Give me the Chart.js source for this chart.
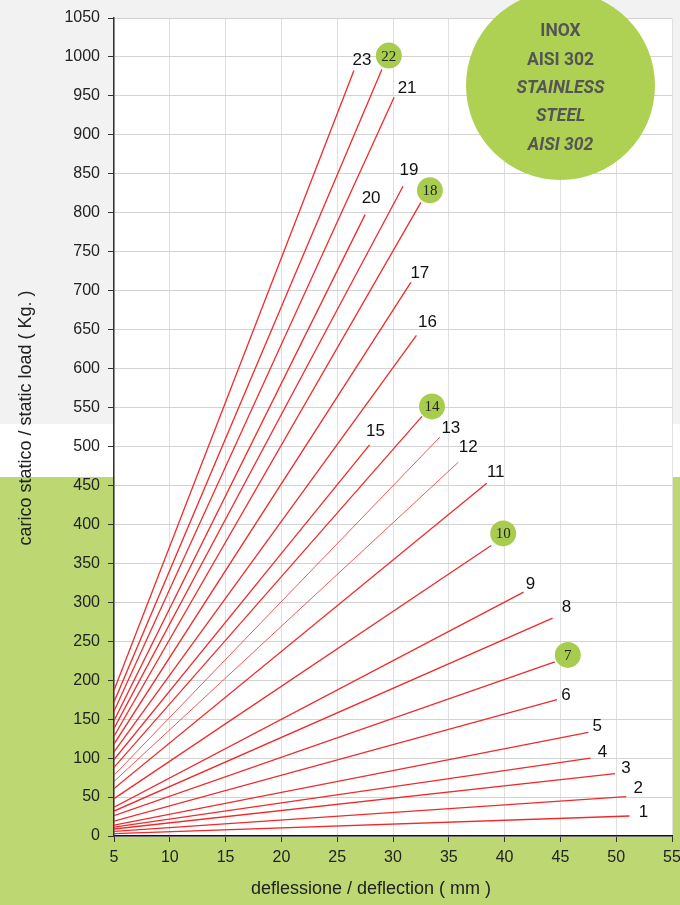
<!DOCTYPE html>
<html>
<head>
<meta charset="utf-8">
<script src="https://cdn.jsdelivr.net/npm/chart.js@4.4.1/dist/chart.umd.min.js"></script>
<style>
  html, body { margin:0; padding:0; }
  body {
    width:680px; height:905px; overflow:hidden; position:relative;
    background: linear-gradient(to bottom, #f2f2f2 0, #f2f2f2 424px, #ffffff 424px, #ffffff 477px, #bdd872 477px, #bdd872 905px);
    font-family: "Liberation Sans", Arial, sans-serif;
  }
  #wrap { position:absolute; left:0; top:0; width:680px; height:905px; }
  .badge-big {
    position:absolute; left:466px; top:-9px; width:189px; height:189px; border-radius:50%;
    background:#aed153; color:#555; font-family: Roboto, "Liberation Sans", sans-serif;
    font-weight:700; font-size:17.5px; text-align:center;
  }
  .badge-big div { position:absolute; left:0; right:0; line-height:20px; }
  .badge-big .it { font-style:italic; }
</style>
</head>
<body>
<div id="wrap"><canvas id="chart" width="680" height="905"></canvas></div>
<div class="badge-big">
  <div style="top:29px">INOX</div>
  <div style="top:58px">AISI 302</div>
  <div class="it" style="top:86px">STAINLESS</div>
  <div class="it" style="top:114px">STEEL</div>
  <div class="it" style="top:143px">AISI 302</div>
</div>
<script>
// spring number, load at 5 mm, end deflection, end load
const SPRINGS    = ['1','2','3','4','5','6','7','8','9','10','11','12','13','14','15','16','17','18','19','20','21','22','23'];
const X_START    = 5;
const START_LOAD = [3, 6, 9, 11.5, 14, 19, 26, 32, 37, 48, 61, 70, 78, 88, 98, 108, 118, 128, 138, 148, 160, 172, 187];
const END_DEFL   = [51.2, 50.9, 49.9, 47.7, 47.5, 44.7, 44.5, 44.3, 41.7, 38.8, 38.4, 35.85, 34.2, 32.6, 27.9, 32.1, 31.6, 32.5, 30.9, 27.5, 30.1, 29.0, 26.5];
const END_LOAD   = [25.7, 50.5, 80, 100, 133, 175, 223.5, 279.6, 313, 373, 452.7, 479.8, 512, 538.6, 502, 642.6, 710.7, 813.4, 834, 797.6, 948.3, 983.8, 982.5];
const BADGED     = ['7','10','14','18','22'];
const THIN       = ['12','13'];

// label offsets from line end (px)
const LABEL_DX = [14,12,11,12,9,9,13,14,7,12,9,10,11,10,6,11,9,9,6,6,13,7,8];
const LABEL_DY = [-4,-8,-5,-6,-6,-4,-7,-11,-8,-12,-11,-15,-9,-10,-14,-13,-9,-12,-16,-16,-9,-14,-10];

const datasets = SPRINGS.map((s, i) => ({
  label: s,
  data: [{x: X_START, y: START_LOAD[i]}, {x: END_DEFL[i], y: END_LOAD[i]}],
  borderColor: THIN.includes(s) ? 'rgba(240,60,60,0.85)' : '#f02a2a',
  borderWidth: THIN.includes(s) ? 1 : 1.3,
  pointRadius: 0,
  fill: false,
  tension: 0,
}));

const plotBg = {
  id:'plotBg',
  beforeDraw(chart){
    const {ctx, chartArea:a} = chart;
    ctx.save();
    ctx.fillStyle = '#fff';
    ctx.fillRect(a.left, a.top, a.right - a.left, a.bottom - a.top);
    ctx.restore();
  }
};

const lineLabels = {
  id:'lineLabels',
  afterDatasetsDraw(chart){
    const ctx = chart.ctx;
    ctx.save();
    chart.data.datasets.forEach((ds, i) => {
      const pt = chart.getDatasetMeta(i).data[1];
      const x = pt.x + LABEL_DX[i], y = pt.y + LABEL_DY[i];
      ctx.textAlign = 'center';
      ctx.textBaseline = 'middle';
      if (BADGED.includes(ds.label)) {
        ctx.fillStyle = '#a8cd4e';
        ctx.beginPath(); ctx.arc(x, y, 13, 0, Math.PI*2); ctx.fill();
        ctx.fillStyle = '#222';
        ctx.font = '15px "Liberation Serif", "Times New Roman", serif';
        ctx.fillText(ds.label, x, y + 1);
      } else {
        ctx.fillStyle = '#111';
        ctx.font = '17px "Liberation Sans", Arial, sans-serif';
        ctx.fillText(ds.label, x, y);
      }
    });
    ctx.restore();
  },
  afterDraw(chart){
    const ctx = chart.ctx;
    ctx.save();
    ctx.fillStyle = '#222';
    ctx.textAlign = 'center';
    ctx.textBaseline = 'middle';
    ctx.font = '18px "Liberation Sans", Arial, sans-serif';
    ctx.fillText('deflessione / deflection ( mm )', 371, 889);
    ctx.translate(26, 418);
    ctx.rotate(-Math.PI/2);
    ctx.font = '18px "Liberation Sans", Arial, sans-serif';
    ctx.fillText('carico statico / static load ( Kg. )', 0, 0);
    ctx.restore();
  }
};

new Chart(document.getElementById('chart'), {
  type:'line',
  data:{ datasets },
  plugins:[plotBg, lineLabels],
  options:{
    responsive:false,
    animation:false,
    layout:{ padding:{ top:18, right:8, left:0, bottom:0 } },
    plugins:{ legend:{display:false}, tooltip:{enabled:false} },
    scales:{
      x:{
        type:'linear', min:5, max:55,
        grid:{ color:'#e0e0e0', tickColor:'#333', tickLength:6 },
        border:{ color:'#111', width:1.5 },
        ticks:{ stepSize:5, color:'#222', padding:6, font:{size:16, family:'"Liberation Sans", Arial'}, maxRotation:0,
                callback:v => String(v) },
        afterFit(scale){ scale.height = 69; scale.paddingLeft = 0; scale.paddingRight = 0; }
      },
      y:{
        type:'linear', min:0, max:1050,
        grid:{ color:'#d3d3d3', tickColor:'#333', tickLength:6 },
        border:{ color:'#333', width:1.5 },
        ticks:{ stepSize:50, color:'#222', padding:8, font:{size:16, family:'"Liberation Sans", Arial'},
                callback:v => String(v) },
        afterFit(scale){ scale.width = 114; scale.paddingTop = 0; scale.paddingBottom = 0; }
      }
    }
  }
});
</script>
</body>
</html>
